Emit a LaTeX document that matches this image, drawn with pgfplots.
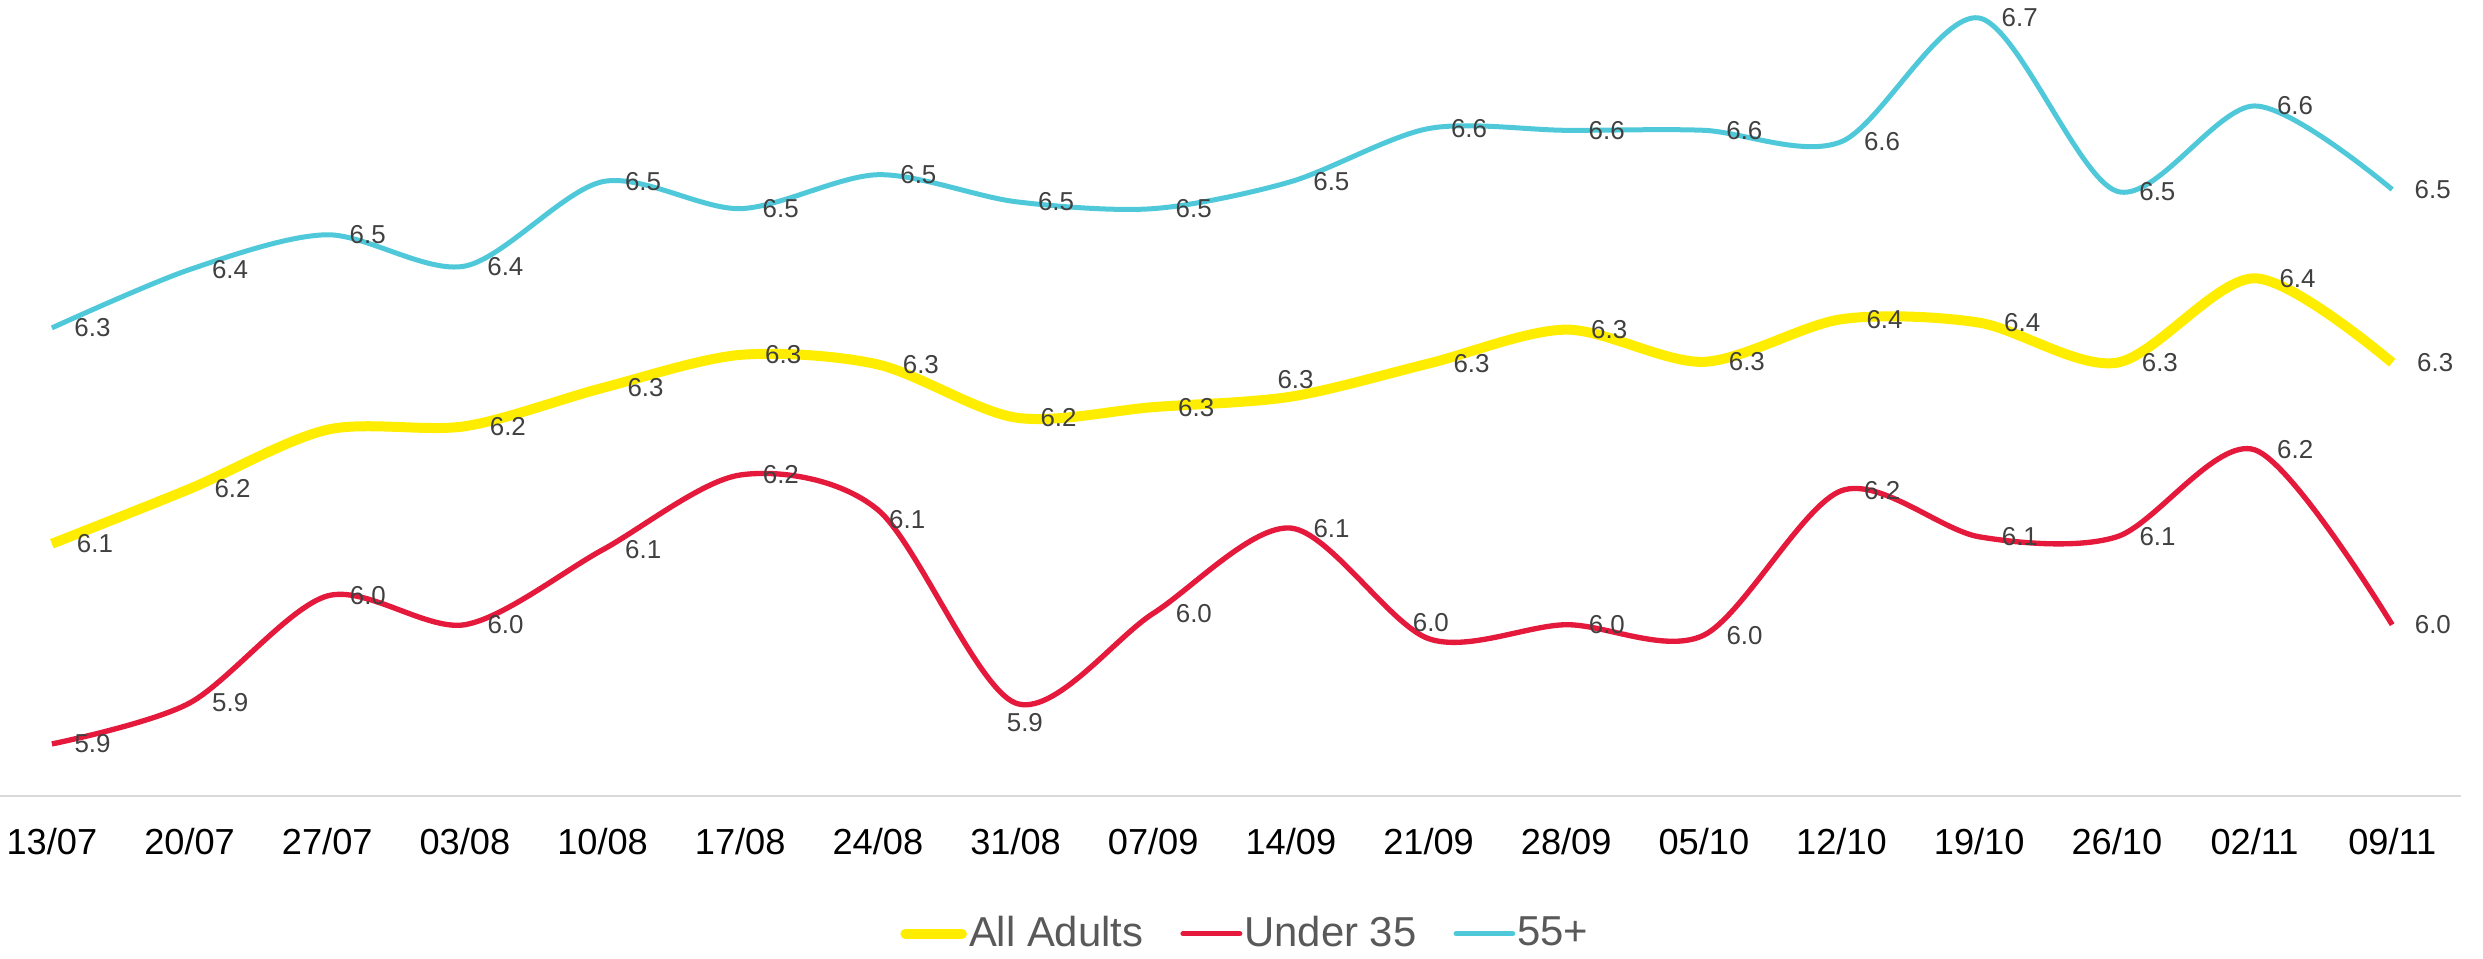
\documentclass[border=0pt]{standalone}
\usepackage{pgfplots}
\pgfplotsset{compat=1.18}
\usepackage{fontspec}
\setmainfont{Liberation Sans}
\definecolor{adults}{HTML}{FFED00}
\definecolor{under}{HTML}{E4193B}
\definecolor{older}{HTML}{4FC9D9}
\definecolor{lbl}{HTML}{404040}
\definecolor{legtxt}{HTML}{595959}
\definecolor{axline}{HTML}{D9D9D9}

\pgfplotstableread{
x adults under older
0  6.098 5.868 6.346
1  6.161 5.915 6.413
2  6.229 6.038 6.453
3  6.233 6.005 6.417
4  6.277 6.091 6.514
5  6.315 6.177 6.483
6  6.304 6.137 6.522
7  6.243 5.915 6.491
8  6.255 6.018 6.483
9  6.267 6.116 6.514
10 6.305 5.989 6.575
11 6.344 6.005 6.573
12 6.307 5.993 6.573
13 6.356 6.159 6.560
14 6.352 6.106 6.702
15 6.306 6.106 6.503
16 6.403 6.206 6.601
17 6.306 6.005 6.505
}\datatable

\begin{document}
\begin{tikzpicture}
\begin{axis}[
  scale only axis, width=738.3bp, height=238.8bp,
  xmin=-0.377, xmax=17.5, ymin=5.8082, ymax=6.7227,
  axis x line*=bottom, axis y line=none,
  x axis line style={draw=axline, line width=0.75bp},
  xtick={0,...,17},
  xticklabels={13/07,20/07,27/07,03/08,10/08,17/08,24/08,31/08,07/09,14/09,21/09,28/09,05/10,12/10,19/10,26/10,02/11,09/11},
  major tick length=0pt,
  xticklabel style={font=\fontsize{10.9}{13}\selectfont, text=black, anchor=base, yshift=-17.6bp},
  ytick=\empty,
  clip=false,
  /pgf/number format/assume math mode=true,
  nodes near coords={\pgfmathprintnumber[fixed,fixed zerofill,precision=1]{\pgfplotspointmeta}},
  every node near coord/.append style={font=\fontsize{7.8}{9}\selectfont, text=lbl, anchor=west, inner sep=0pt, xshift=6bp},
  legend columns=-1,
  legend style={at={(0.506,-0.173)}, anchor=center, draw=none, fill=none,
    font=\fontsize{12.6}{15}\selectfont, text=legtxt,
    nodes={inner sep=0.6bp},
    /tikz/every even column/.append style={column sep=10.5bp}},
  legend image code/.code={\draw[#1, line cap=round] (0bp,0bp) -- (17bp,0bp);},
]
\addplot[adults, line width=3bp, smooth, mark=none,
  coordinate style/.condition={\coordindex==2}{text opacity=0},
  coordinate style/.condition={\coordindex==9}{xshift=-11.5bp, yshift=5.2bp},
] table[x=x, y=adults] {\datatable};
\addlegendentry{All Adults}
\addplot[under, line width=1.6bp, smooth, mark=none,
  coordinate style/.condition={\coordindex==6}{xshift=-3.4bp, yshift=-3bp},
  coordinate style/.condition={\coordindex==7}{xshift=-9.4bp, yshift=-6bp},
  coordinate style/.condition={\coordindex==10}{xshift=-11.5bp, yshift=4.8bp},
] table[x=x, y=under] {\datatable};
\addlegendentry{Under 35}
\addplot[older, line width=1.5bp, smooth, mark=none] table[x=x, y=older] {\datatable};
\addlegendentry{55+}
\end{axis}
\pgfresetboundingbox
\path[use as bounding box] ([yshift=-48.9bp]current axis.south west) rectangle ([xshift=744.9bp]current axis.north west);
\end{tikzpicture}
\end{document}
